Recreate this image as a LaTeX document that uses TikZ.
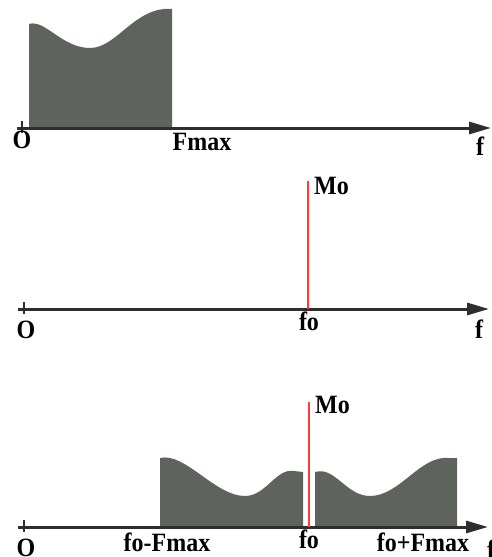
\documentclass[tikz,border=0pt]{standalone}
\usepackage{fontspec}
\usepackage{graphicx}
\setmainfont{Liberation Serif}
\usetikzlibrary{arrows.meta}
\definecolor{specfill}{HTML}{5E635D}
\definecolor{axisgray}{HTML}{2E2E2E}
\definecolor{carrier}{HTML}{FF3B3B}
\newcommand{\tallt}[1]{\scalebox{1}[1.1]{#1}}
\tikzset{
  axisline/.style={draw=axisgray, line width=3pt, -{Triangle[length=22pt,width=12pt]}},
  tickline/.style={draw=axisgray, line width=2pt},
  spectrum/.style={fill=specfill, draw=none},
  redline/.style={draw=carrier, line width=2.8pt},
  lbl/.style={inner sep=0pt, anchor=base, font=\fontsize{24}{27}\selectfont\bfseries, text=black}
}
\begin{document}
\begin{tikzpicture}[x=1pt,y=-1pt]
\useasboundingbox (0,0) rectangle (492,557);
% ---------- top panel ----------
\path[spectrum] (29,128) -- (29,24) .. controls (45,19) and (62,48) .. (90,48)
  .. controls (117,48) and (135,6) .. (172,9) -- (172,128) -- cycle;
\coordinate (a1s) at (17,128);
\coordinate (a1e) at (491,128);
\draw[axisline] (a1s) -- (a1e);
\coordinate (t1a) at (22,121);
\coordinate (t1b) at (22,133);
\draw[tickline] (t1a) -- (t1b);
\node[lbl] (o1) at (22,148) {\tallt{O}};
\node[lbl] (fmax1) at (202,150) {\tallt{Fmax}};
\node[lbl] (f1) at (480,155) {\tallt{f}};
% ---------- middle panel ----------
\coordinate (a2s) at (18,309);
\coordinate (a2e) at (489,309);
\draw[axisline] (a2s) -- (a2e);
\coordinate (t2a) at (24,302);
\coordinate (t2b) at (24,314);
\draw[tickline] (t2a) -- (t2b);
\coordinate (m2t) at (308,181);
\coordinate (m2b) at (308,309);
\draw[redline] (m2t) -- (m2b);
\node[lbl, anchor=base west] (mo2) at (314,194) {\tallt{Mo}};
\node[lbl] (o2) at (26,338) {\tallt{O}};
\node[lbl] (fo2) at (309,330) {\tallt{fo}};
\node[lbl] (f2) at (479,338) {\tallt{f}};
% ---------- bottom panel ----------
\path[spectrum] (160,527) -- (160,458) .. controls (185,452) and (215,496) .. (245,496)
  .. controls (266,496) and (276,468) .. (294,471) -- (303,472) -- (303,527) -- cycle;
\path[spectrum] (315,527) -- (315,472) .. controls (335,466) and (346,496) .. (370,496)
  .. controls (400,496) and (420,455) .. (449,458) -- (457,458) -- (457,527) -- cycle;
\coordinate (a3s) at (18,527);
\coordinate (a3e) at (488,527);
\draw[axisline] (a3s) -- (a3e);
\coordinate (t3a) at (24,520);
\coordinate (t3b) at (24,532);
\draw[tickline] (t3a) -- (t3b);
\coordinate (m3t) at (309,402);
\coordinate (m3b) at (309,527);
\draw[redline] (m3t) -- (m3b);
\node[lbl, anchor=base west] (mo3) at (315,413) {\tallt{Mo}};
\node[lbl] (o3) at (26,556) {\tallt{O}};
\node[lbl] (fofm) at (167,551) {\tallt{fo-Fmax}};
\node[lbl] (fo3) at (309,548) {\tallt{fo}};
\node[lbl] (fopm) at (423,551) {\tallt{fo+Fmax}};
\node[lbl] (f3) at (491,558) {\tallt{f}};
\end{tikzpicture}
\end{document}
